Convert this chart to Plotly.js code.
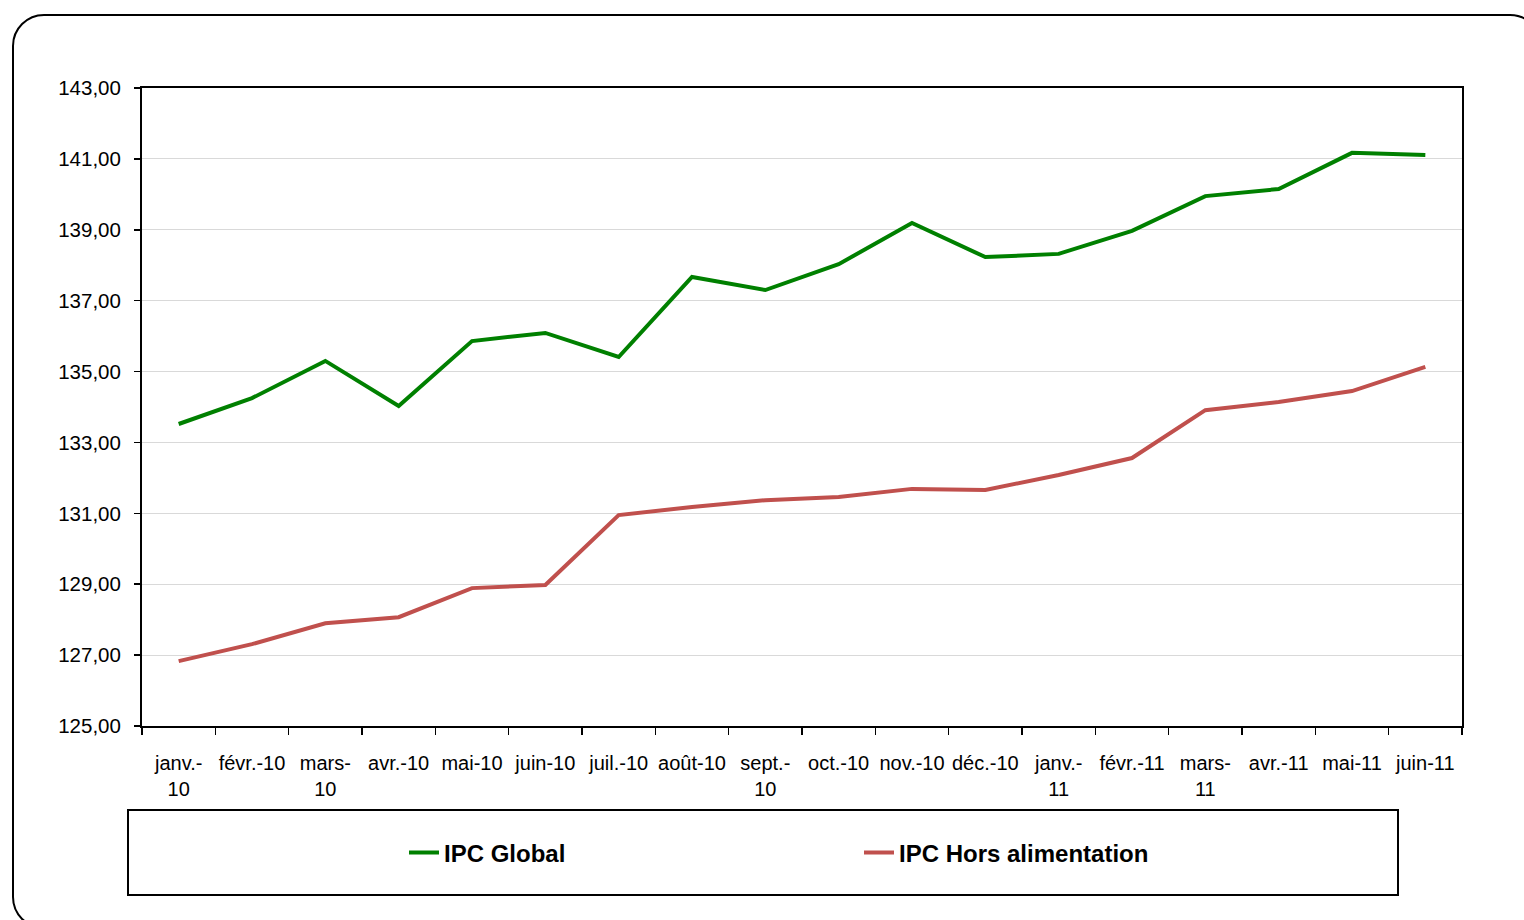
<!DOCTYPE html>
<html>
<head>
<meta charset="utf-8">
<script src="https://cdn.plot.ly/plotly-3.0.1.min.js"></script>
<style>
  html, body { margin: 0; padding: 0; background: #ffffff; overflow: hidden; }
  #frame { position: absolute; left: 12px; top: 14px; width: 1530px; height: 915px;
           border: 2.5px solid #000; border-radius: 32px; box-sizing: border-box; pointer-events: none; }
  #chart { position: absolute; left: 0; top: 0; width: 1524px; height: 920px; }
</style>
</head>
<body>
<div id="chart"></div>
<div id="frame"></div>
<script>
const categories = ["janv.-<br>10", "févr.-10", "mars-<br>10", "avr.-10", "mai-10", "juin-10",
  "juil.-10", "août-10", "sept.-<br>10", "oct.-10", "nov.-10", "déc.-10",
  "janv.-<br>11", "févr.-11", "mars-<br>11", "avr.-11", "mai-11", "juin-11"];
const ipcGlobal = [133.52, 134.25, 135.30, 134.03, 135.86, 136.09, 135.41, 137.67, 137.30,
  138.03, 139.19, 138.23, 138.32, 138.97, 139.95, 140.15, 141.17, 141.11];
const ipcHorsAlim = [126.83, 127.31, 127.90, 128.07, 128.89, 128.98, 130.95, 131.18, 131.37,
  131.46, 131.69, 131.66, 132.08, 132.56, 133.91, 134.14, 134.45, 135.13];
const seriesNames = ["IPC Global", "IPC Hors alimentation"];
const yTicks = [125, 127, 129, 131, 133, 135, 137, 139, 141, 143];

const L = 142, R = 1462, T = 88, B = 726;
const W = R - L, H = B - T;
const px = x => (x - L) / W;
const py = y => (B - y) / H;

const traces = [
  { x: categories, y: ipcGlobal, name: seriesNames[0], type: "scatter", mode: "lines",
    line: { color: "#008000", width: 4 } },
  { x: categories, y: ipcHorsAlim, name: seriesNames[1], type: "scatter", mode: "lines",
    line: { color: "#C0504D", width: 4 } }
];

const layout = {
  width: 1524, height: 920,
  margin: { l: L, r: 1524 - R, t: T, b: 920 - B, pad: 0 },
  paper_bgcolor: "rgba(0,0,0,0)", plot_bgcolor: "#ffffff",
  separators: ", ",
  font: { family: "Liberation Sans, Arial, sans-serif", color: "#000", size: 20 },
  showlegend: true,
  legend: {
    orientation: "h", x: px(404), xanchor: "left", y: py(853), yanchor: "middle",
    entrywidth: 410, entrywidthmode: "pixels", bgcolor: "rgba(0,0,0,0)",
    font: { family: "Liberation Sans, Arial, sans-serif", size: 24, color: "#000", weight: "bold" },
    tracegroupgap: 0
  },
  xaxis: {
    type: "category", tickmode: "array", tickvals: categories, ticktext: categories,
    tickson: "boundaries", ticks: "outside", ticklen: 7, tickwidth: 1.5, tickcolor: "#000",
    showline: true, linecolor: "#000", linewidth: 2, mirror: true,
    showgrid: false, zeroline: false, ticklabelstandoff: 18,
    tickfont: { family: "Liberation Sans, Arial, sans-serif", size: 20 },
    range: [-0.5, 17.5], tickangle: 0
  },
  yaxis: {
    range: [125, 143], tickmode: "array", tickvals: yTicks, tickformat: ".2f",
    ticks: "outside", ticklen: 6, tickwidth: 1.5, tickcolor: "#000",
    showline: true, linecolor: "#000", linewidth: 2, mirror: true,
    showgrid: true, gridcolor: "#d9d9d9", gridwidth: 1.2, zeroline: false,
    ticklabelstandoff: 9,
    tickfont: { family: "Liberation Sans, Arial, sans-serif", size: 20.5 }
  },
  shapes: [
    { type: "rect", xref: "paper", yref: "paper",
      x0: px(128), x1: px(1398), y0: py(810), y1: py(895),
      line: { color: "#000", width: 2 }, fillcolor: "rgba(0,0,0,0)", layer: "below" }
  ]
};

Plotly.newPlot("chart", traces, layout, { displayModeBar: false, staticPlot: true });
</script>
</body>
</html>
